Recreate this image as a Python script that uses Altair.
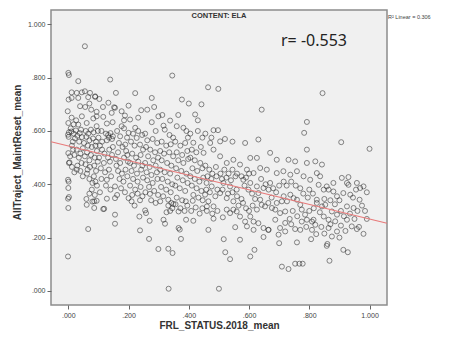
import altair as alt
import pandas as pd

# (FRL_STATUS.2018_mean, AllTraject_MaintReset_mean) pairs, by x band
band_0 = [(0.000,0.818),(0.002,0.810),(0.001,0.718),(-0.002,0.674),(0.000,0.630),(0.002,0.595),(-0.001,0.586),(0.001,0.578),(0.000,0.517),(0.002,0.480),(-0.001,0.417),(0.001,0.410),(0.000,0.386),(0.002,0.352),(-0.001,0.346),(0.000,0.311),(-0.001,0.129)]
band_005 = [(0.055,0.918),(0.033,0.787),(0.011,0.745),(0.028,0.743),(0.045,0.745),(0.011,0.724),(0.033,0.724),(0.039,0.693),(0.011,0.650),(0.045,0.655),(0.033,0.624),(0.010,0.598),(0.018,0.590),(0.025,0.602),(0.030,0.582),(0.038,0.592),(0.022,0.572),(0.045,0.577),(0.015,0.560),(0.012,0.545),(0.028,0.530),(0.040,0.515),(0.048,0.535),(0.020,0.510),(0.035,0.500),(0.004,0.482),(0.012,0.465),(0.020,0.445),(0.028,0.455),(0.040,0.450),(0.048,0.430),(0.008,0.610),(0.018,0.625),(0.026,0.640),(0.042,0.605),(0.036,0.560),(0.016,0.530),(0.006,0.505),(0.030,0.470),(0.044,0.480)]
band_010 = [(0.055,0.749),(0.072,0.743),(0.089,0.730),(0.103,0.720),(0.066,0.727),(0.089,0.728),(0.070,0.703),(0.094,0.672),(0.061,0.630),(0.094,0.655),(0.083,0.647),(0.094,0.618),(0.060,0.578),(0.070,0.565),(0.082,0.572),(0.092,0.560),(0.100,0.575),(0.062,0.520),(0.075,0.510),(0.088,0.500),(0.095,0.525),(0.070,0.490),(0.055,0.505),(0.062,0.440),(0.070,0.420),(0.080,0.405),(0.085,0.430),(0.090,0.410),(0.095,0.395),(0.078,0.380),(0.088,0.360),(0.070,0.365),(0.060,0.345),(0.080,0.335),(0.061,0.323),(0.086,0.311),(0.066,0.232),(0.058,0.600),(0.066,0.590),(0.075,0.605),(0.084,0.595),(0.098,0.600),(0.052,0.555),(0.065,0.545),(0.078,0.540),(0.090,0.545),(0.057,0.475),(0.072,0.465),(0.086,0.470),(0.098,0.485),(0.064,0.455),(0.092,0.450),(0.076,0.680),(0.056,0.690),(0.086,0.336),(0.094,0.338)]
band_015 = [(0.139,0.793),(0.133,0.706),(0.116,0.653),(0.144,0.668),(0.128,0.628),(0.147,0.633),(0.125,0.590),(0.132,0.585),(0.140,0.592),(0.148,0.580),(0.135,0.575),(0.145,0.570),(0.128,0.565),(0.120,0.515),(0.132,0.500),(0.145,0.510),(0.138,0.485),(0.128,0.417),(0.116,0.307),(0.119,0.308),(0.128,0.346),(0.110,0.600),(0.105,0.545),(0.112,0.530),(0.118,0.480),(0.108,0.460),(0.122,0.445),(0.135,0.455),(0.142,0.430),(0.110,0.420),(0.125,0.395),(0.140,0.380),(0.105,0.370),(0.115,0.690),(0.148,0.540),(0.112,0.560),(0.136,0.530),(0.102,0.500)]
band_020 = [(0.158,0.743),(0.152,0.689),(0.155,0.687),(0.177,0.674),(0.188,0.658),(0.177,0.618),(0.172,0.580),(0.200,0.593),(0.189,0.549),(0.158,0.495),(0.165,0.520),(0.155,0.392),(0.155,0.348),(0.155,0.286),(0.155,0.252),(0.162,0.600),(0.185,0.610),(0.195,0.575),(0.168,0.555),(0.180,0.540),(0.192,0.525),(0.160,0.470),(0.172,0.480),(0.185,0.500),(0.198,0.485),(0.165,0.450),(0.178,0.440),(0.190,0.455),(0.170,0.420),(0.183,0.410),(0.196,0.430),(0.175,0.385),(0.188,0.370),(0.162,0.360),(0.200,0.348),(0.185,0.640),(0.196,0.510)]
band_025 = [(0.222,0.742),(0.200,0.695),(0.242,0.678),(0.205,0.643),(0.222,0.612),(0.227,0.574),(0.238,0.549),(0.210,0.336),(0.238,0.340),(0.238,0.227),(0.236,0.279),(0.215,0.590),(0.232,0.600),(0.245,0.585),(0.208,0.560),(0.220,0.545),(0.248,0.530),(0.212,0.515),(0.225,0.500),(0.240,0.510),(0.205,0.480),(0.218,0.470),(0.232,0.485),(0.246,0.470),(0.210,0.450),(0.228,0.440),(0.242,0.455),(0.215,0.420),(0.230,0.410),(0.248,0.425),(0.205,0.395),(0.222,0.380),(0.240,0.390),(0.212,0.360),(0.230,0.365),(0.246,0.355),(0.220,0.320),(0.232,0.650)]
band_030 = [(0.277,0.724),(0.299,0.655),(0.277,0.633),(0.255,0.590),(0.271,0.364),(0.255,0.302),(0.258,0.292),(0.270,0.263),(0.268,0.195),(0.299,0.157),(0.290,0.600),(0.262,0.565),(0.280,0.570),(0.295,0.555),(0.258,0.540),(0.272,0.530),(0.288,0.520),(0.265,0.505),(0.282,0.490),(0.298,0.500),(0.255,0.480),(0.270,0.465),(0.290,0.470),(0.260,0.445),(0.276,0.435),(0.294,0.445),(0.262,0.415),(0.280,0.405),(0.296,0.420),(0.268,0.390),(0.285,0.375),(0.256,0.370),(0.298,0.360),(0.275,0.340),(0.290,0.330),(0.262,0.680),(0.285,0.690)]
band_035 = [(0.345,0.808),(0.338,0.639),(0.316,0.620),(0.320,0.605),(0.348,0.575),(0.305,0.336),(0.332,0.342),(0.349,0.326),(0.316,0.267),(0.321,0.252),(0.332,0.158),(0.346,0.142),(0.333,0.008),(0.310,0.560),(0.325,0.545),(0.340,0.550),(0.305,0.525),(0.318,0.515),(0.335,0.520),(0.348,0.505),(0.310,0.490),(0.328,0.480),(0.342,0.470),(0.305,0.455),(0.320,0.445),(0.338,0.440),(0.312,0.420),(0.330,0.410),(0.345,0.400),(0.308,0.390),(0.325,0.380),(0.340,0.370),(0.315,0.355),(0.332,0.320),(0.345,0.310),(0.338,0.300),(0.326,0.295),(0.342,0.330),(0.312,0.660),(0.336,0.585)]
band_040 = [(0.377,0.718),(0.400,0.703),(0.360,0.618),(0.382,0.612),(0.397,0.575),(0.366,0.298),(0.390,0.336),(0.366,0.236),(0.370,0.230),(0.374,0.195),(0.391,0.267),(0.355,0.560),(0.372,0.545),(0.388,0.555),(0.360,0.520),(0.378,0.510),(0.395,0.525),(0.365,0.490),(0.382,0.480),(0.398,0.495),(0.358,0.460),(0.375,0.450),(0.392,0.440),(0.362,0.425),(0.380,0.415),(0.396,0.405),(0.355,0.395),(0.370,0.385),(0.388,0.375),(0.360,0.350),(0.378,0.340),(0.395,0.320),(0.356,0.325),(0.372,0.310),(0.386,0.300),(0.365,0.660),(0.392,0.600)]
band_045 = [(0.415,0.556),(0.421,0.662),(0.413,0.338),(0.423,0.313),(0.415,0.263),(0.405,0.590),(0.430,0.600),(0.445,0.575),(0.410,0.530),(0.425,0.520),(0.440,0.540),(0.405,0.500),(0.420,0.490),(0.438,0.480),(0.412,0.460),(0.428,0.450),(0.445,0.460),(0.405,0.430),(0.420,0.420),(0.435,0.410),(0.448,0.425),(0.410,0.395),(0.426,0.385),(0.442,0.375),(0.415,0.360),(0.432,0.350),(0.446,0.340),(0.408,0.300),(0.436,0.290),(0.445,0.310),(0.430,0.640),(0.442,0.700)]
band_mid = [(0.464,0.764),(0.498,0.758),(0.482,0.603),(0.497,0.603),(0.460,0.317),(0.844,0.742),(0.642,0.680),(0.792,0.634),(0.783,0.593),
    (0.465,0.229),(0.516,0.194),(0.570,0.192),(0.521,0.145),(0.537,0.119),(0.604,0.129),(0.618,0.154),(0.648,0.202),(0.700,0.179),(0.759,0.182),(0.806,0.194),(0.823,0.213),(0.709,0.091),(0.731,0.082),(0.753,0.102),(0.767,0.102),(0.778,0.102),(0.867,0.113),(0.858,0.169),(0.860,0.176),(0.913,0.154),(0.928,0.145),(0.500,0.008),(0.554,0.239),(0.482,0.271),(0.513,0.276),
    (0.703,0.236),(0.720,0.223),(0.753,0.232),(0.770,0.229),(0.687,0.267),(0.665,0.229),(0.698,0.211),
    (0.631,0.367),(0.637,0.342),(0.642,0.323),(0.653,0.317),(0.664,0.330),(0.626,0.305),(0.604,0.279),(0.615,0.260),(0.631,0.254),(0.648,0.236),(0.664,0.229),(0.615,0.229),(0.593,0.242),(0.548,0.305),(0.559,0.298),(0.526,0.305),(0.537,0.292),(0.570,0.279),(0.587,0.260),
    (0.581,0.417),(0.604,0.405),(0.626,0.392),(0.648,0.386),(0.670,0.405),(0.515,0.405),(0.537,0.392),(0.559,0.380),(0.504,0.367),(0.526,0.348),(0.548,0.336),(0.459,0.405),(0.476,0.392),(0.454,0.361),(0.465,0.336),(0.482,0.317),
    (0.471,0.555),(0.504,0.561),(0.587,0.555),(0.631,0.568),(0.670,0.518),(0.692,0.492),(0.731,0.492),(0.753,0.486),(0.792,0.530),(0.820,0.486),(0.792,0.480),(0.842,0.474),
    (0.449,0.518),(0.482,0.530),(0.504,0.505),(0.526,0.480),(0.548,0.492),(0.570,0.474),(0.604,0.499),(0.626,0.499),(0.593,0.455),(0.615,0.442),(0.637,0.461),(0.659,0.455),(0.692,0.442),(0.714,0.449),(0.737,0.436),(0.759,0.449),(0.781,0.430),(0.803,0.417),(0.825,0.442),(0.836,0.430),
    (0.455,0.470),(0.468,0.455),(0.478,0.440),(0.490,0.465),(0.462,0.430),(0.475,0.420),(0.492,0.430),(0.458,0.380),(0.470,0.370),(0.488,0.355),(0.495,0.380),(0.460,0.300),(0.478,0.290),(0.495,0.300),(0.505,0.440),(0.518,0.455),(0.532,0.440),(0.545,0.455),(0.510,0.420),(0.525,0.425),(0.540,0.415),(0.555,0.430),(0.512,0.380),(0.530,0.365),(0.545,0.370),(0.560,0.355),(0.575,0.345),(0.565,0.320),(0.580,0.330),(0.590,0.310),(0.560,0.440),(0.575,0.430),(0.590,0.425),(0.600,0.440),(0.585,0.395),(0.598,0.380),(0.610,0.365),(0.620,0.345),(0.612,0.320),(0.600,0.300),
    (0.455,0.590),(0.475,0.575),(0.520,0.570),(0.545,0.560)]
band_high = [(1.000,0.533),(0.906,0.558),(0.980,0.392),(0.991,0.370),(0.967,0.342),(0.991,0.270),(0.980,0.214),(0.941,0.242),(0.958,0.232),(0.925,0.267),(0.908,0.424),(0.930,0.427),(0.930,0.398),(0.913,0.367),(0.936,0.361),(0.925,0.317),(0.947,0.311),(0.892,0.286),
    (0.831,0.398),(0.848,0.380),(0.864,0.380),(0.880,0.373),(0.892,0.355),(0.825,0.342),(0.825,0.330),(0.842,0.317),(0.853,0.323),(0.875,0.298),(0.848,0.279),(0.864,0.267),(0.886,0.261),(0.864,0.236),(0.892,0.223),(0.875,0.204),(0.814,0.267),(0.820,0.248),(0.809,0.229),
    (0.770,0.323),(0.775,0.305),(0.786,0.286),(0.792,0.267),(0.809,0.260),(0.748,0.348),(0.759,0.342),(0.737,0.361),(0.715,0.355),(0.726,0.336),(0.692,0.330),(0.709,0.336),(0.676,0.311),(0.687,0.305),(0.703,0.292),(0.720,0.298),
    (0.858,0.392),(0.880,0.405),(0.925,0.405),(0.958,0.405),(0.969,0.386),
    (0.640,0.420),(0.655,0.400),(0.665,0.380),(0.680,0.385),(0.690,0.370),(0.675,0.350),(0.700,0.395),(0.715,0.410),(0.725,0.395),(0.740,0.410),(0.755,0.395),(0.770,0.385),(0.780,0.365),(0.795,0.350),(0.800,0.380),(0.812,0.365),(0.745,0.300),(0.760,0.280),(0.775,0.260),(0.735,0.270),(0.720,0.255),(0.740,0.250),(0.790,0.240),(0.800,0.300),(0.815,0.310),(0.835,0.295),(0.850,0.345),(0.870,0.340),(0.885,0.325),(0.900,0.340),(0.905,0.300),(0.915,0.280),(0.935,0.290),(0.950,0.270),(0.960,0.300),(0.975,0.320),(0.945,0.350),(0.955,0.380),(0.905,0.245),(0.920,0.225),(0.870,0.250),(0.840,0.240),(0.850,0.215),(0.900,0.200),(0.965,0.240),(0.985,0.300)]

reg_intercept = 0.544
reg_slope = -0.274
x_extent = [-0.0575, 1.058]
y_extent = [-0.053, 1.054]
tick_values = [0.0, 0.2, 0.4, 0.6, 0.8, 1.0]

pairs = band_0 + band_005 + band_010 + band_015 + band_020 + band_025 + band_030 + band_035 + band_040 + band_045 + band_mid + band_high
df = pd.DataFrame(pairs, columns=["frl", "traj"])
line_df = pd.DataFrame({"frl": x_extent, "traj": [reg_intercept + reg_slope * v for v in x_extent]})

label_expr = "datum.value >= 1 ? '1.000' : '.' + substring(format(datum.value, '.3f'), 2)"
FONT = "Liberation Sans"

xscale = alt.Scale(domain=x_extent, nice=False, zero=False)
yscale = alt.Scale(domain=y_extent, nice=False, zero=False)

x_axis = alt.Axis(values=tick_values, labelExpr=label_expr, grid=False, domain=False,
                  tickSize=4, tickColor="#666666", labelFontSize=7, labelColor="#444444",
                  labelFont=FONT, labelPadding=2, title="FRL_STATUS.2018_mean",
                  titleFont=FONT, titleFontSize=10, titleFontWeight="bold", titleColor="#333333",
                  titleY=23.5, titleBaseline="alphabetic")
y_axis = alt.Axis(values=tick_values, labelExpr=label_expr, grid=False, domain=False,
                  tickSize=4, tickColor="#666666", labelFontSize=7, labelColor="#444444",
                  labelFont=FONT, labelPadding=2, title="AllTraject_MaintReset_mean",
                  titleFont=FONT, titleFontSize=10, titleFontWeight="bold", titleColor="#333333",
                  titleX=-34, titleY=142, titleAngle=270, titleAlign="center", titleBaseline="middle")

points = alt.Chart(df).mark_point(shape="circle", filled=False, size=25, stroke="#222222",
                                  strokeWidth=0.9, opacity=0.6).encode(
    x=alt.X("frl:Q", scale=xscale, axis=x_axis),
    y=alt.Y("traj:Q", scale=yscale, axis=y_axis),
)

fit = alt.Chart(line_df).mark_line(color="#e87a7a", strokeWidth=1.1).encode(
    x=alt.X("frl:Q", scale=xscale),
    y=alt.Y("traj:Q", scale=yscale),
)

r_text = alt.Chart(pd.DataFrame({"t": ["r= -0.553"]})).mark_text(
    align="left", baseline="middle", fontSize=16, font="Noto Sans", color="#222222"
).encode(x=alt.value(230), y=alt.value(31), text="t:N")

r2_text = alt.Chart(pd.DataFrame({"t": ["R² Linear = 0.306"]})).mark_text(
    align="left", baseline="middle", fontSize=5.5, font=FONT, color="#444444"
).encode(x=alt.value(337), y=alt.value(7), text="t:N")

title_text = alt.Chart(pd.DataFrame({"t": ["CONTENT: ELA"]})).mark_text(
    align="center", baseline="top", fontSize=7.5, fontWeight="bold", font=FONT, color="#333333"
).encode(x=alt.value(168), y=alt.value(2), text="t:N")

chart = alt.layer(points, fit, r_text, r2_text, title_text).properties(
    width=336, height=295,
    autosize=alt.AutoSizeParams(type="none"),
    padding={"left": 43, "top": 2, "right": 54, "bottom": 26},
    background="white",
).configure_view(stroke="#8c8c8c", strokeWidth=1.5, fill="#f0f0f0")

chart.save("out.html", embed_options={"renderer": "svg", "actions": False})
